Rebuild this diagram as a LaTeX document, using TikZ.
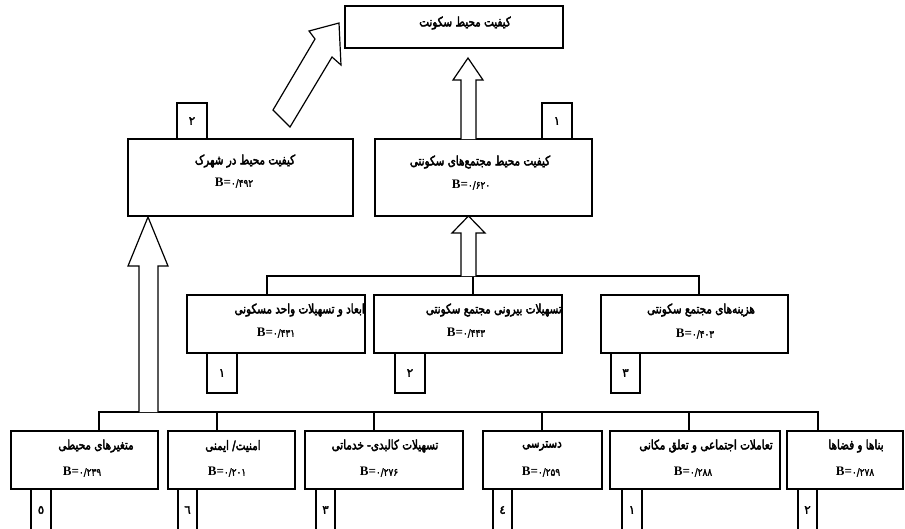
\documentclass[tikz,border=0pt]{standalone}
\usepackage{fontspec}
\TeXXeTstate=1
\newfontfamily\fatext[Script=Arabic, FakeBold=3.5]{DejaVu Sans}
\newfontfamily\fadig[FakeBold=2]{DejaVu Sans}
\newfontfamily\latser{Liberation Serif}
\newcommand\rtxt[1]{\scalebox{0.8}[1]{\fatext\fontsize{13}{15}\selectfont\beginR #1\endR}}
\newcommand\bval[1]{{\latser\bfseries\fontsize{13}{15}\selectfont B=}\scalebox{0.85}[1]{\fadig\fontsize{10.5}{12}\selectfont #1}}
\tikzset{
  box/.style={draw, line width=1.3pt, rectangle, inner sep=0pt},
  ttl/.style={inner sep=0pt},
  bline/.style={inner sep=0pt},
  numbox/.style={draw, line width=1.3pt, rectangle, inner sep=0pt, font=\fadig\fontsize{12}{14}\selectfont},
  conn/.style={line width=1.2pt},
  hollow/.style={draw, fill=white, line width=1.2pt, line join=miter}
}
\begin{document}
\begin{tikzpicture}[x=1pt,y=-1pt]
\useasboundingbox (0,0) rectangle (905,528);
% top
\node[box, minimum width=218pt, minimum height=42pt] (T) at (454,27) {};
\node[ttl] (Tt) at (465,23) {\rtxt{کیفیت محیط سکونت}};
% middle upper
\node[box, minimum width=225pt, minimum height=77pt] (L) at (240.5,177.5) {};
\node[ttl] (Lt) at (245,161) {\rtxt{کیفیت محیط در شهرک}};
\node[bline] (Lb) at (234,183) {\bval{۰/۴۹۲}};
\node[box, minimum width=217pt, minimum height=77pt] (R) at (483.5,177.5) {};
\node[ttl] (Rt) at (480,162) {\rtxt{کیفیت محیط مجتمع‌های سکونتی}};
\node[bline] (Rb) at (471,185) {\bval{۰/۶۲۰}};
\node[numbox, minimum width=30pt, minimum height=36pt] (Ln) at (192,121) {۲};
\node[numbox, minimum width=30pt, minimum height=36pt] (Rn) at (557,121) {۱};
% middle row
\node[box, minimum width=178pt, minimum height=58pt] (m1) at (276,324) {};
\node[ttl, anchor=east] (m1t) at (365,310) {\rtxt{ابعاد و تسهیلات واحد مسکونی}};
\node[bline] (m1b) at (276,333) {\bval{۰/۴۳۱}};
\node[box, minimum width=188pt, minimum height=58pt] (m2) at (468,324) {};
\node[ttl, anchor=east] (m2t) at (562,310) {\rtxt{تسهیلات بیرونی مجتمع سکونتی}};
\node[bline] (m2b) at (466,333) {\bval{۰/۴۴۳}};
\node[box, minimum width=187pt, minimum height=58pt] (m3) at (694.5,324) {};
\node[ttl] (m3t) at (701,310) {\rtxt{هزینه‌های مجتمع سکونتی}};
\node[bline] (m3b) at (695,334) {\bval{۰/۴۰۳}};
\node[numbox, minimum width=30pt, minimum height=40pt] (m1n) at (222,373) {۱};
\node[numbox, minimum width=30pt, minimum height=40pt] (m2n) at (410,373) {۲};
\node[numbox, minimum width=29pt, minimum height=40pt] (m3n) at (625.5,373) {۳};
% bottom row
\node[box, minimum width=147pt, minimum height=58pt] (b1) at (84.5,460) {};
\node[ttl] (b1t) at (96,446) {\rtxt{متغیرهای محیطی}};
\node[bline] (b1b) at (82,472) {\bval{۰/۲۳۹}};
\node[box, minimum width=127pt, minimum height=58pt] (b2) at (231.5,460) {};
\node[ttl] (b2t) at (233,446) {\rtxt{امنیت/ ایمنی}};
\node[bline] (b2b) at (227,472) {\bval{۰/۲۰۱}};
\node[box, minimum width=158pt, minimum height=58pt] (b3) at (384,460) {};
\node[ttl] (b3t) at (385,446) {\rtxt{تسهیلات کالبدی- خدماتی}};
\node[bline] (b3b) at (379,472) {\bval{۰/۲۷۶}};
\node[box, minimum width=119pt, minimum height=58pt] (b4) at (542.5,460) {};
\node[ttl] (b4t) at (542,446) {\rtxt{دسترسی}};
\node[bline] (b4b) at (541,472) {\bval{۰/۲۵۹}};
\node[box, minimum width=170pt, minimum height=58pt] (b5) at (695,460) {};
\node[ttl, anchor=east] (b5t) at (773,446) {\rtxt{تعاملات اجتماعی و تعلق مکانی}};
\node[bline] (b5b) at (693,472) {\bval{۰/۲۸۸}};
\node[box, minimum width=116pt, minimum height=58pt] (b6) at (845,460) {};
\node[ttl] (b6t) at (856,446) {\rtxt{بناها و فضاها}};
\node[bline] (b6b) at (855,472) {\bval{۰/۲۷۸}};
\node[numbox, minimum width=20pt, minimum height=42pt] (b1n) at (41,510) {٥};
\node[numbox, minimum width=19pt, minimum height=42pt] (b2n) at (187.5,510) {٦};
\node[numbox, minimum width=19pt, minimum height=42pt] (b3n) at (325.5,510) {۳};
\node[numbox, minimum width=19pt, minimum height=42pt] (b4n) at (502.5,510) {٤};
\node[numbox, minimum width=20pt, minimum height=42pt] (b5n) at (632,510) {۱};
\node[numbox, minimum width=19pt, minimum height=42pt] (b6n) at (807.5,510) {۲};
% buses
\coordinate (busM) at (473,276);
\coordinate (busB) at (148,412);
\draw[conn] ([xshift=-9pt]m1.north) |- (busM) -| ([xshift=4.5pt]m3.north);
\draw[conn] (busM) -- ([xshift=5pt]m2.north);
\draw[conn] ([xshift=14.5pt]b1.north) |- (busB) -| ([xshift=-27pt]b6.north);
\draw[conn] ([xshift=-14.5pt]b2.north) -- ++(0,-19);
\draw[conn] ([xshift=-10pt]b3.north) -- ++(0,-19);
\draw[conn] ([xshift=-0.5pt]b4.north) -- ++(0,-19);
\draw[conn] ([xshift=-6pt]b5.north) -- ++(0,-19);
% hollow arrows
\draw[hollow] (139,412) -- (139,266) -- (128,266) -- (148,217) -- (168,266) -- (158,266) -- (158,412);
\draw[hollow] (461,276) -- (461,233) -- (452,233) -- (468.5,216) -- (485,233) -- (476,233) -- (476,276);
\draw[hollow] (461,139) -- (461,80) -- (453,80) -- (468,58) -- (483,80) -- (476,80) -- (476,139);
\draw[hollow] (290,127) -- (273,110) -- (315,39) -- (309,31) -- (339,23) -- (341,65) -- (332,57) -- cycle;
\end{tikzpicture}
\end{document}
